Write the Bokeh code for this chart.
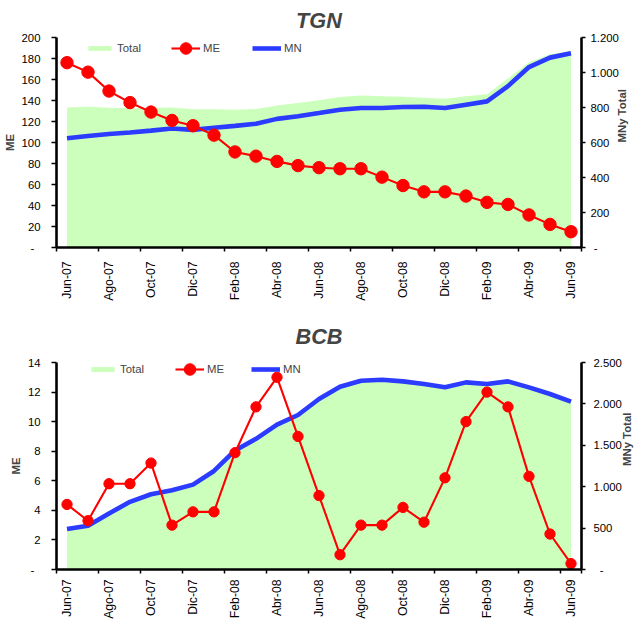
import math
from bokeh.plotting import figure
from bokeh.models import (Range1d, LinearAxis, FixedTicker, Legend, LegendItem)
from bokeh.layouts import column
from bokeh.embed import file_html
from bokeh.resources import INLINE

months = ["Jun-07", "Jul-07", "Ago-07", "Sep-07", "Oct-07", "Nov-07", "Dic-07",
          "Ene-08", "Feb-08", "Mar-08", "Abr-08", "May-08", "Jun-08", "Jul-08",
          "Ago-08", "Sep-08", "Oct-08", "Nov-08", "Dic-08", "Ene-09", "Feb-09",
          "Mar-09", "Abr-09", "May-09", "Jun-09"]

tgn_me = [176, 167, 149, 138, 129, 121, 116, 107, 91, 87, 82, 78, 76,
          75, 75, 67, 59, 53, 53, 49, 43, 41, 31, 22, 15]
tgn_mn = [624, 637, 649, 657, 668, 680, 672, 684, 695, 707, 735, 750, 768,
          787, 797, 797, 803, 804, 797, 816, 835, 922, 1031, 1085, 1110]
tgn_total = [800, 804, 799, 796, 798, 800, 790, 790, 787, 792, 812, 826, 842,
             860, 869, 864, 861, 856, 850, 864, 876, 966, 1059, 1105, 1123]

bcb_me = [4.4, 3.3, 5.8, 5.8, 7.2, 3.0, 3.9, 3.9, 7.9, 11.0, 13.0, 9.0, 5.0,
          1.0, 3.0, 3.0, 4.2, 3.2, 6.2, 10.0, 12.0, 11.0, 6.3, 2.4, 0.4]
bcb_mn = [489, 529, 677, 817, 909, 957, 1025, 1190, 1438, 1578, 1750, 1866, 2059,
          2208, 2280, 2292, 2272, 2240, 2200, 2260, 2240, 2272, 2200, 2120, 2028]
bcb_total = [493, 532, 683, 823, 916, 960, 1029, 1194, 1446, 1589, 1763, 1875, 2064,
             2209, 2283, 2295, 2276, 2243, 2206, 2270, 2252, 2283, 2206, 2122, 2028]

tgn_left_ticks = [0, 20, 40, 60, 80, 100, 120, 140, 160, 180, 200]
tgn_left_labels = ["-\u00a0\u00a0", "20", "40", "60", "80", "100", "120", "140", "160", "180", "200"]
tgn_right_ticks = [0, 200, 400, 600, 800, 1000, 1200]
tgn_right_labels = ["\u00a0-", "200", "400", "600", "800", "1.000", "1.200"]

bcb_left_ticks = [0, 2, 4, 6, 8, 10, 12, 14]
bcb_left_labels = ["-\u00a0\u00a0", "2", "4", "6", "8", "10", "12", "14"]
bcb_right_ticks = [0, 500, 1000, 1500, 2000, 2500]
bcb_right_labels = ["\u00a0\u00a0-", "500", "1.000", "1.500", "2.000", "2.500"]

FONT = "Liberation Sans"
GREEN = "#CCFFBB"
RED = "#FF0000"
BLUE = "#2B3BFF"
W = 641


def make_chart(title, me, mn, total, lticks, llabels, rticks, rlabels,
               height, borders, marker_size, x_standoff, r_standoff, r_label_standoff,
               title_standoff, legend_pos):
    bl, br, bt, bb = borders
    n = len(months)
    xs = list(range(n))
    p = figure(width=W, height=height, output_backend="svg", toolbar_location=None,
               x_range=Range1d(-0.5, n - 0.5), y_range=Range1d(lticks[0], lticks[-1]),
               min_border_left=bl, min_border_right=br, min_border_top=bt,
               min_border_bottom=bb)
    p.title.text = title
    p.title.align = "center"
    p.title.text_font = FONT
    p.title.text_font_size = "21.7px"
    p.title.text_font_style = "bold italic"
    p.title.standoff = title_standoff
    p.outline_line_color = None
    p.xgrid.visible = False
    p.ygrid.visible = False

    p.extra_y_ranges = {"right": Range1d(rticks[0], rticks[-1])}

    area = p.varea(x=xs, y1=[0] * n, y2=total, y_range_name="right",
                   fill_color=GREEN, fill_alpha=1.0)
    mn_line = p.line(xs, mn, y_range_name="right", line_color=BLUE, line_width=4.6)
    me_line = p.line(xs, me, line_color=RED, line_width=2.1)
    me_pts = p.scatter(xs, me, size=marker_size, marker="circle",
                       fill_color=RED, line_color=RED)

    xa = p.xaxis[0]
    xa.ticker = FixedTicker(ticks=xs[::2],
                            minor_ticks=[i - 0.5 for i in range(0, n + 1, 2)] + [n - 0.5])
    xa.major_label_overrides = {i: months[i] for i in xs[::2]}
    xa.major_label_orientation = math.pi / 2
    xa.major_label_text_font = FONT
    xa.major_label_text_font_size = "12.2px"
    xa.major_label_text_color = "black"
    xa.major_label_standoff = x_standoff
    xa.major_tick_out = 0
    xa.major_tick_in = 0
    xa.minor_tick_out = 4
    xa.minor_tick_in = 0
    xa.minor_tick_line_width = 1.5
    xa.minor_tick_line_color = "black"
    xa.axis_line_width = 2.6
    xa.axis_line_color = "black"

    ya = p.yaxis[0]
    ya.ticker = FixedTicker(ticks=lticks)
    ya.major_label_overrides = dict(zip(lticks, llabels))
    ya.axis_label = "ME"
    ya.axis_label_text_font = FONT
    ya.axis_label_text_font_size = "11.35px"
    ya.axis_label_text_font_style = "bold"
    ya.axis_label_standoff = 3
    ya.major_label_text_font = FONT
    ya.major_label_text_font_size = "11.35px"
    ya.major_label_text_color = "black"
    ya.major_label_standoff = 11
    ya.major_tick_out = 5
    ya.major_tick_in = 0
    ya.major_tick_line_width = 1.5
    ya.minor_tick_out = 0
    ya.axis_line_width = 2.6
    ya.axis_line_color = "black"

    ra = LinearAxis(y_range_name="right", ticker=FixedTicker(ticks=rticks))
    ra.major_label_overrides = dict(zip(rticks, rlabels))
    ra.axis_label = "MNy Total"
    ra.axis_label_orientation = math.pi / 2
    ra.axis_label_text_font = FONT
    ra.axis_label_text_font_size = "11.35px"
    ra.axis_label_text_font_style = "bold"
    ra.axis_label_standoff = r_label_standoff
    ra.major_label_text_font = FONT
    ra.major_label_text_font_size = "11.35px"
    ra.major_label_text_color = "black"
    ra.major_label_standoff = r_standoff
    ra.major_tick_out = 4
    ra.major_tick_in = 0
    ra.major_tick_line_width = 1.5
    ra.minor_tick_out = 0
    ra.axis_line_width = 2.6
    ra.axis_line_color = "black"
    p.add_layout(ra, "right")

    common = dict(orientation="horizontal", background_fill_alpha=0,
                  border_line_alpha=0, padding=0, margin=0, spacing=0,
                  label_text_font=FONT, label_text_font_size="11.35px",
                  label_standoff=3, glyph_width=29, label_height=12)
    (tx, mx, nx, cy) = legend_pos
    lg1 = Legend(items=[LegendItem(label="Total", renderers=[area])],
                 location=(tx, cy - 6), glyph_height=6, **common)
    lg2 = Legend(items=[LegendItem(label="ME", renderers=[me_line, me_pts])],
                 location=(mx, cy - 15), glyph_height=30, **common)
    lg3 = Legend(items=[LegendItem(label="MN", renderers=[mn_line])],
                 location=(nx, cy - 6), glyph_height=12, **common)
    for lg in (lg1, lg2, lg3):
        p.add_layout(lg, "center")
    return p


top = make_chart("TGN", tgn_me, tgn_mn, tgn_total,
                 tgn_left_ticks, tgn_left_labels, tgn_right_ticks, tgn_right_labels,
                 height=305, borders=(52, 50, 31, 58), marker_size=12.4,
                 x_standoff=10, r_standoff=5, r_label_standoff=0, title_standoff=10,
                 legend_pos=(29, 115, 196, 199))
bottom = make_chart("BCB", bcb_me, bcb_mn, bcb_total,
                    bcb_left_ticks, bcb_left_labels, bcb_right_ticks, bcb_right_labels,
                    height=316, borders=(50, 58, 57, 45), marker_size=10.3,
                    x_standoff=6, r_standoff=8, r_label_standoff=2, title_standoff=27,
                    legend_pos=(32, 119, 195, 200))

layout = column(top, bottom, spacing=0)
open("out.html", "w").write(file_html(layout, INLINE))
